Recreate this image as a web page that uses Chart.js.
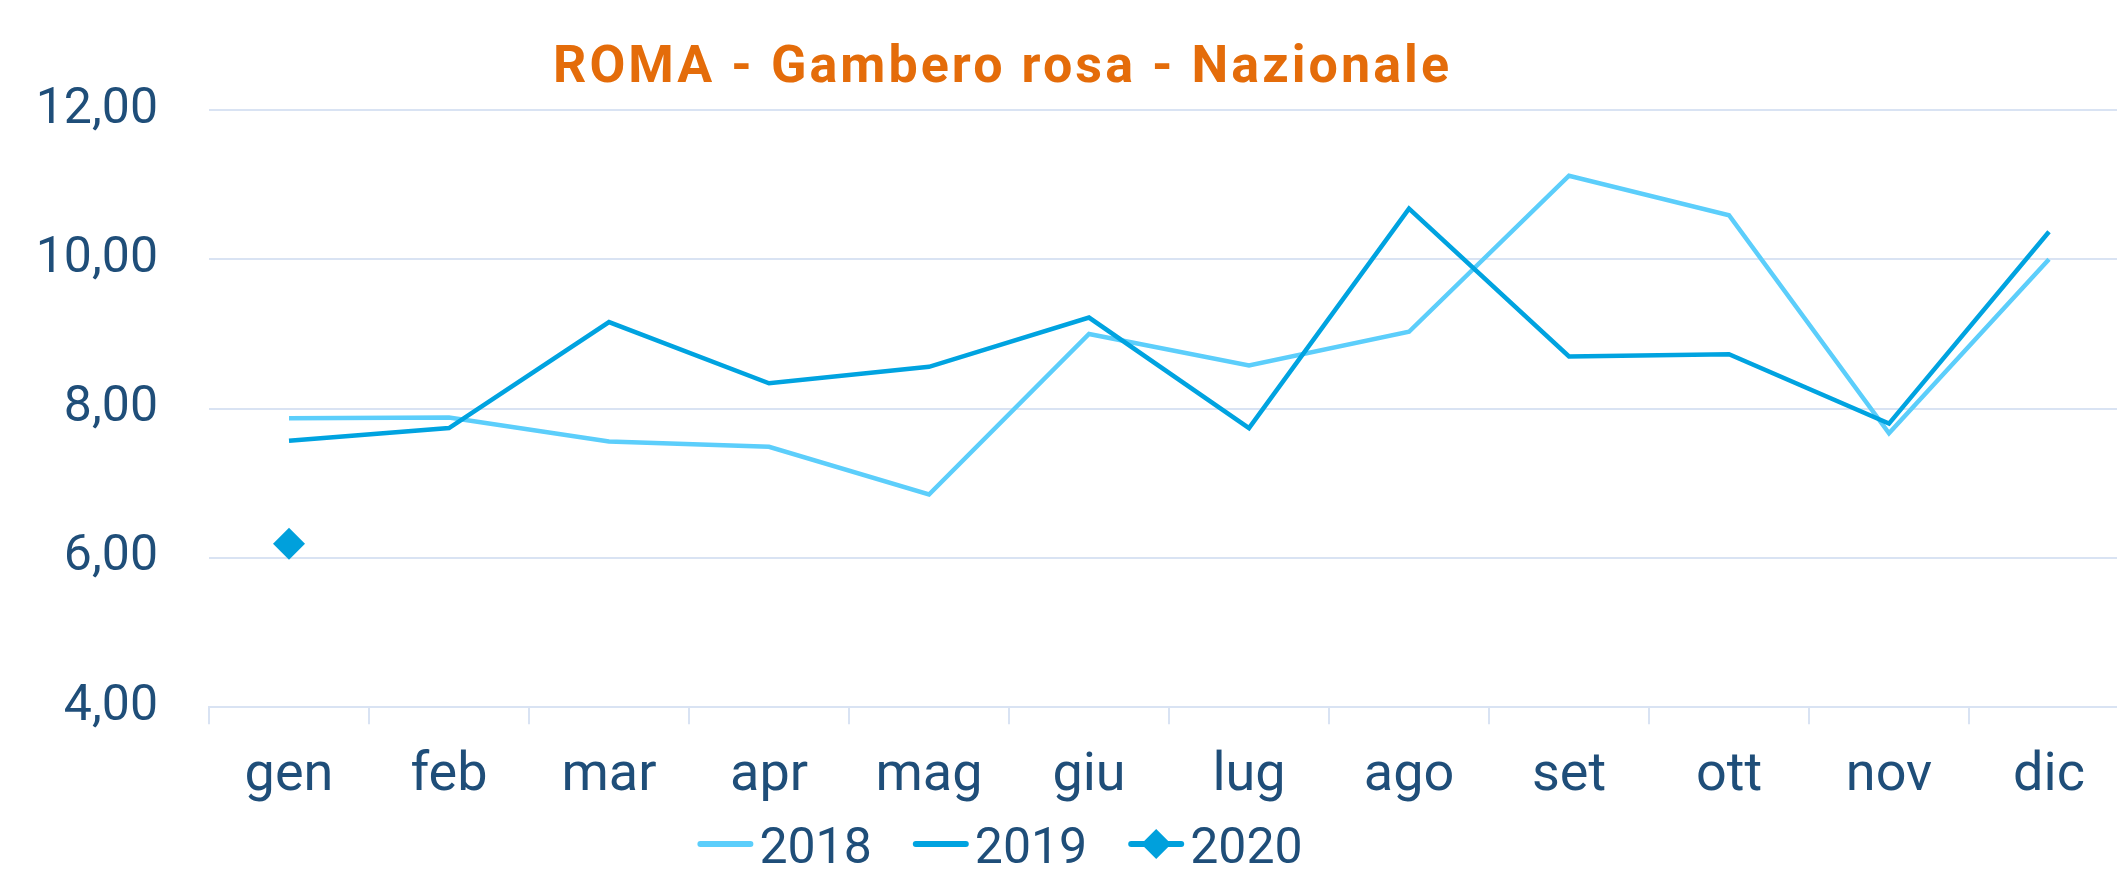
<!DOCTYPE html>
<html>
<head>
<meta charset="utf-8">
<script src="https://cdn.jsdelivr.net/npm/chart.js@4.4.0/dist/chart.umd.min.js"></script>
<style>
html,body{margin:0;padding:0;background:#fff;overflow:hidden}
#wrap{width:2117px;height:871px;overflow:hidden;position:relative}
#c{display:block}
</style>
</head>
<body>
<div id="wrap"><canvas id="c" width="2145" height="871"></canvas></div>
<script>
/* ROMA - Gambero rosa - Nazionale */
const titolo='ROMA - Gambero rosa - Nazionale';
const mesi=['gen','feb','mar','apr','mag','giu','lug','ago','set','ott','nov','dic'];
const anni=['2018','2019','2020'];
const v2018=[7.87,7.88,7.56,7.49,6.85,9.00,8.58,9.03,11.12,10.59,7.67,10.00];
const v2019=[7.57,7.74,9.16,8.34,8.56,9.22,7.74,10.68,8.70,8.73,7.80,10.37];
const v2020=[6.19,null,null,null,null,null,null,null,null,null,null,null];
const yTicks=[4,6,8,10,12];

(function(){
  const blu='#1f4e79',griglia='#d9e3f3';
  const fmt=v=>v.toFixed(2).replace('.',',');

  const titlePlugin={id:'titolo',afterDraw(chart){
    const ctx=chart.ctx;ctx.save();
    ctx.font='bold 52px Roboto';ctx.fillStyle='#e46c0a';ctx.textBaseline='alphabetic';ctx.textAlign='left';
    const w=ctx.measureText(titolo).width;const target=896;
    const ls=(target-w)/(titolo.length-1);
    ctx.letterSpacing=ls+'px';
    ctx.fillText(titolo,1001-target/2,82);
    ctx.restore();
  }};

  const legendPlugin={id:'legenda',afterDraw(chart){
    const ctx=chart.ctx;ctx.save();
    ctx.font='50px Roboto';ctx.textBaseline='alphabetic';ctx.textAlign='left';
    const sw=56,gap=6,sp=41,y=844;
    const ds=chart.data.datasets;
    const ws=ds.map(d=>ctx.measureText(d.label).width);
    const total=ws.reduce((s,w)=>s+sw+gap+w,0)+sp*(ds.length-1);
    let x=1000-total/2;
    ds.forEach((d,i)=>{
      ctx.strokeStyle=d.borderColor;ctx.lineWidth=6;ctx.lineCap='round';
      ctx.beginPath();ctx.moveTo(x+3,y);ctx.lineTo(x+sw-3,y);ctx.stroke();
      if(d.pointRadius>0){
        ctx.fillStyle=d.pointBackgroundColor;
        Chart.helpers.drawPoint(ctx,{pointStyle:'rectRot',radius:15,borderWidth:0},x+sw/2,y);
      }
      ctx.fillStyle=blu;ctx.fillText(d.label,x+sw+gap,y+19);
      x+=sw+gap+ws[i]+sp;
    });
    ctx.restore();
  }};

  function init(){
    const el=document.getElementById('c');
    new Chart(el,{type:'line',data:{labels:mesi,datasets:[
      {label:anni[0],data:v2018,borderColor:'#5ccefb',borderWidth:4.5,pointRadius:0,fill:false,order:3},
      {label:anni[1],data:v2019,borderColor:'#00a3e0',borderWidth:4.5,pointRadius:0,fill:false,order:2},
      {label:anni[2],data:v2020,borderColor:'#00a0dc',borderWidth:4.5,pointStyle:'rectRot',pointRadius:16,
        pointBackgroundColor:'#00a0dc',pointBorderWidth:0,fill:false,order:1}
    ]},options:{responsive:false,animation:false,
      layout:{padding:{top:110,left:0,right:0,bottom:0}},
      scales:{
        x:{offset:true,
          grid:{offset:true,drawOnChartArea:false,drawTicks:true,tickLength:17,color:griglia,lineWidth:2},
          border:{display:true,color:griglia,width:2},
          ticks:{color:blu,font:{family:'Roboto',size:54},padding:20,maxRotation:0,autoSkip:false},
          afterFit(s){s.height=871-707.3;}},
        y:{min:4,max:12,
          afterBuildTicks(s){s.ticks=yTicks.map(v=>({value:v}));},
          grid:{color:griglia,lineWidth:2,drawTicks:false},
          border:{display:false},
          ticks:{color:blu,font:{family:'Roboto',size:50},padding:51,callback:v=>fmt(v)},
          afterFit(s){s.width=209;}}
      },
      plugins:{legend:{display:false},tooltip:{enabled:false},title:{display:false}}},
      plugins:[titlePlugin,legendPlugin]});
  }
  document.addEventListener('DOMContentLoaded',init);
})();
</script>
</body>
</html>
